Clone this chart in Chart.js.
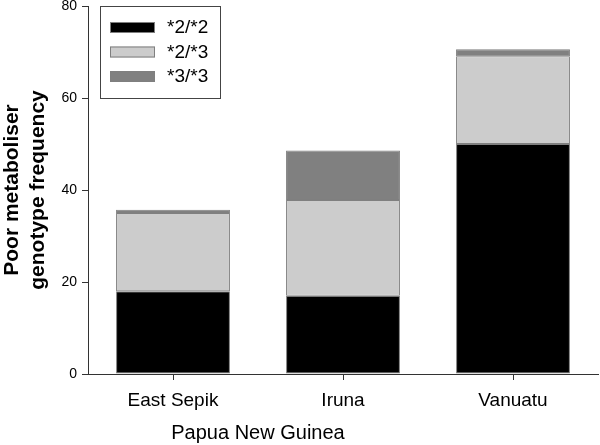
<!DOCTYPE html>
<html>
<head>
<meta charset="utf-8">
<script src="https://cdn.jsdelivr.net/npm/chart.js@4"></script>
<style>
  html, body { margin: 0; padding: 0; background: #fff; }
  #chart { display: block; }
</style>
</head>
<body>
<canvas id="chart" width="600" height="445"></canvas>
<script>
// Genotype frequency by population (stacked)
const categories = ['East Sepik', 'Iruna', 'Vanuatu'];
const genotype22 = [18, 17, 50];
const genotype23 = [17, 20.8, 19.1];
const genotype33 = [0.7, 10.8, 1.5];
const yTicks = [0, 20, 40, 60, 80];
const groupLabel = 'Papua New Guinea';

const FONT = 'Liberation Sans, Arial, Helvetica, sans-serif';
const AXIS_COLOR = '#333';
const EDGE_COLOR = '#7f7f7f';

// Legend box drawn inside the plot area, upper left
const insideLegend = {
    id: 'insideLegend',
    afterDraw(chart) {
        const ctx = chart.ctx;
        const area = chart.chartArea;
        const x0 = area.left + 12;
        const y0 = area.top;
        ctx.save();
        ctx.strokeStyle = '#444';
        ctx.lineWidth = 1;
        ctx.fillStyle = '#fff';
        ctx.fillRect(x0 + 0.5, y0 + 0.5, 120, 92);
        ctx.strokeRect(x0 + 0.5, y0 + 0.5, 120, 92);
        ctx.font = '19px ' + FONT;
        ctx.textAlign = 'left';
        ctx.textBaseline = 'middle';
        chart.data.datasets.forEach((ds, i) => {
            const cy = y0 + 21 + i * 24.5;
            ctx.fillStyle = ds.backgroundColor;
            ctx.fillRect(x0 + 10, cy - 5, 45, 11);
            ctx.strokeStyle = EDGE_COLOR;
            ctx.strokeRect(x0 + 10.5, cy - 4.5, 44, 10);
            ctx.fillStyle = '#000';
            ctx.fillText(ds.label, x0 + 67, cy + 1);
        });
        ctx.restore();
    }
};

// Group title centred under the first two categories
const groupTitle = {
    id: 'groupTitle',
    afterDraw(chart) {
        const xs = chart.scales.x;
        const ctx = chart.ctx;
        const cx = (xs.getPixelForValue(0) + xs.getPixelForValue(1)) / 2;
        ctx.save();
        ctx.font = '20px ' + FONT;
        ctx.fillStyle = '#000';
        ctx.textAlign = 'center';
        ctx.textBaseline = 'middle';
        ctx.fillText(groupLabel, cx, xs.bottom - 12);
        ctx.restore();
    }
};

function makeDataset(label, data, color) {
    return {
        label: label,
        data: data,
        backgroundColor: color,
        borderColor: EDGE_COLOR,
        borderWidth: 1,
        borderSkipped: false,
        barPercentage: 0.67,
        categoryPercentage: 1.0
    };
}

new Chart(document.getElementById('chart'), {
    type: 'bar',
    data: {
        labels: categories,
        datasets: [
            makeDataset('*2/*2', genotype22, '#000000'),
            makeDataset('*2/*3', genotype23, '#cccccc'),
            makeDataset('*3/*3', genotype33, '#808080')
        ]
    },
    options: {
        responsive: false,
        animation: false,
        devicePixelRatio: 1,
        layout: { padding: { top: 6, right: 2, left: 0, bottom: 0 } },
        plugins: {
            legend: { display: false },
            tooltip: { enabled: false }
        },
        scales: {
            x: {
                stacked: true,
                grid: { display: true, offset: false, drawOnChartArea: false, drawTicks: true, tickLength: 6, color: AXIS_COLOR },
                border: { display: true, color: AXIS_COLOR, width: 1 },
                ticks: { color: '#000', font: { family: FONT, size: 19 }, padding: 9, maxRotation: 0 },
                afterFit(scale) {
                    scale.height = 71;
                    scale.paddingLeft = 0;
                    scale.paddingRight = 0;
                }
            },
            y: {
                stacked: true,
                min: 0,
                max: 80,
                afterBuildTicks(scale) { scale.ticks = yTicks.map(v => ({ value: v })); },
                grid: { display: true, drawOnChartArea: false, drawTicks: true, tickLength: 6, color: AXIS_COLOR },
                border: { display: true, color: AXIS_COLOR, width: 1 },
                ticks: { color: '#000', font: { family: FONT, size: 14 }, padding: 5 },
                title: {
                    display: true,
                    text: ['Poor metaboliser', 'genotype frequency'],
                    color: '#000',
                    font: { family: FONT, size: 21, weight: 'bold', lineHeight: 1.2 },
                    padding: { top: 0, bottom: 0 }
                },
                afterFit(scale) {
                    scale.width = 88;
                    scale.paddingTop = 0;
                    scale.paddingBottom = 0;
                }
            }
        }
    },
    plugins: [insideLegend, groupTitle]
});
</script>
</body>
</html>
